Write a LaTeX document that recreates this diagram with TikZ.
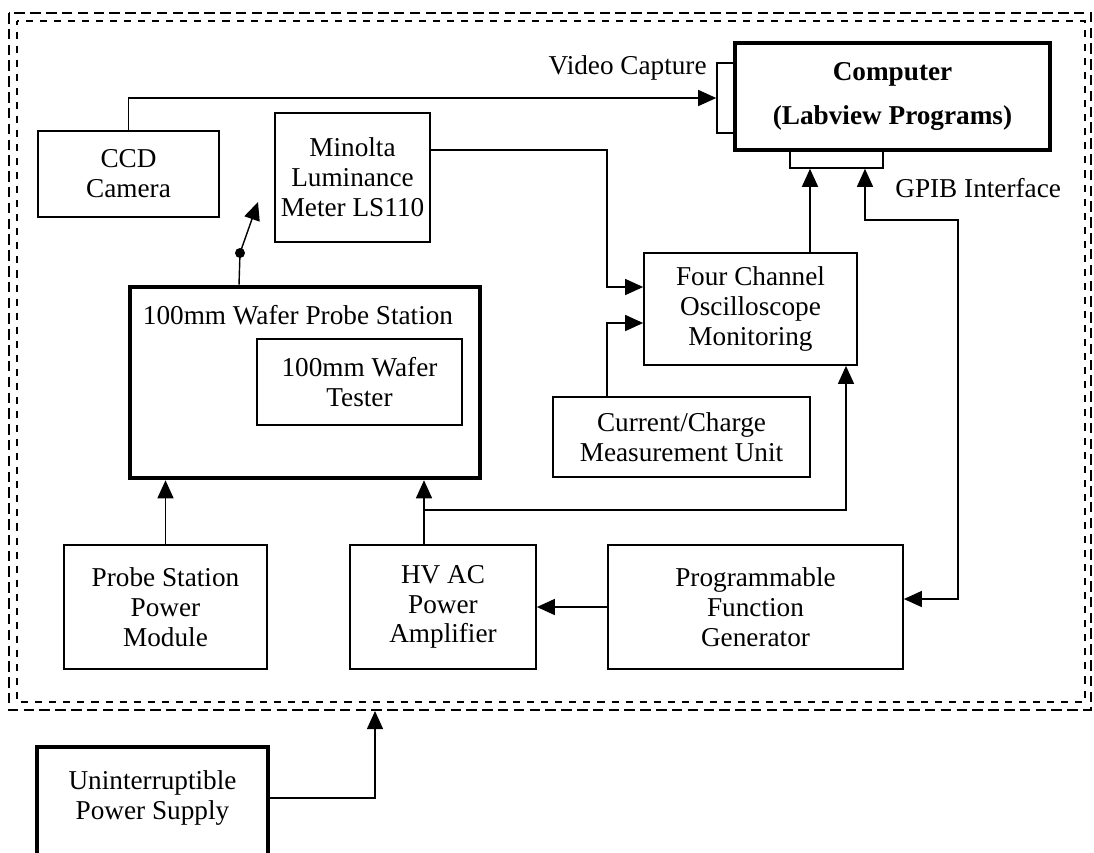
\documentclass[tikz,border=0pt]{standalone}
\usepackage{fontspec}
\setmainfont{Liberation Serif}
\usetikzlibrary{positioning}
\usetikzlibrary{arrows.meta}

\tikzset{
  box/.style={draw, rectangle, line width=1pt, align=center, inner sep=0pt},
  heavy/.style={box, line width=2.6pt},
  port/.style={draw, rectangle, line width=0.9pt, inner sep=0pt},
  tip/.tip={Triangle[length=0.36cm,width=0.32cm]},
  conn/.style={line width=0.8pt, -tip},
  frame/.style={line width=1.5pt}
}

\begin{document}
\begin{tikzpicture}[x=0.02cm, y=-0.02cm, every node/.style={font=\fontsize{15.5}{17}\selectfont}]
    \useasboundingbox (0,0) rectangle (1094,852);

    % Double dashed enclosure
    \draw[frame, dash pattern=on 6pt off 3pt] (9,13) rectangle (1091,710);
    \draw[frame, dash pattern=on 4pt off 4pt, dash phase=2pt] (17,21) rectangle (1085,702);

    % Computer and its ports
    \node (comp) [heavy, minimum width=6.3cm, minimum height=2.14cm, font=\fontsize{15.5}{17}\selectfont\bfseries] at (892.5,96.5) {Computer\\[8pt](Labview Programs)};
    \node (vidport) [port, minimum width=0.36cm, minimum height=1.4cm] at (726,98) {};
    \node (gpibport) [port, minimum width=1.86cm, minimum height=0.36cm] at (836.5,159) {};
    \node (vidlbl) [anchor=east, inner sep=0pt] at (707,68) {Video Capture};
    \node (gpiblbl) [anchor=west, inner sep=0pt] at (895,188) {GPIB Interface};

    % Instruments
    \node (ccd) [box, minimum width=3.62cm, minimum height=1.72cm] at (128.5,174) {CCD\\Camera};
    \node (minolta) [box, minimum width=3.1cm, minimum height=2.58cm] at (352.5,177.5) {Minolta\\Luminance\\Meter LS110};
    \node (probe) [heavy, minimum width=7cm, minimum height=3.82cm] at (305,382.5) {};
    \node (probelbl) [inner sep=0pt] at (298,315) {100mm Wafer Probe Station};
    \node (tester) [box, minimum width=4.1cm, minimum height=1.72cm] at (359.5,382) {100mm Wafer\\Tester};
    \node (osc) [box, minimum width=4.26cm, minimum height=2.24cm] at (750.5,309) {Four Channel\\Oscilloscope\\Monitoring};
    \node (current) [box, minimum width=5.14cm, minimum height=1.6cm] at (681.5,437) {Current/Charge\\Measurement Unit};

    % Power and signal sources
    \node (psp) [box, minimum width=4.06cm, minimum height=2.48cm] at (165.5,607) {Probe Station\\Power\\Module};
    \node (hvac) [box, minimum width=3.72cm, minimum height=2.48cm] at (443,607) {HV AC\\Power\\Amplifier};
    \node (fgen) [box, minimum width=5.9cm, minimum height=2.48cm] at (755.5,607) {Programmable\\Function\\Generator};
    \node (upsbox) [heavy, minimum width=4.62cm, minimum height=2.44cm] at (152.5,808) {};
    \node (ups) [align=center] at (152.5,798) {Uninterruptible\\Power Supply};

    % Connections
    \draw[conn] (ccd.north) |- (vidport.west);
    \draw[conn] ([yshift=0.55cm]minolta.east) -| ([xshift=-0.72cm,yshift=0.44cm]osc.west) -- ([yshift=0.44cm]osc.west);
    \draw[conn] ([xshift=1.1cm]current.north west) |- ([yshift=-0.28cm]osc.west);
    \draw[conn] ([xshift=1.19cm]osc.north) -- ([xshift=1.19cm]osc.north |- gpibport.south);
    \draw[conn, tip-tip] ([xshift=0.57cm]gpibport.south) |- (958,220) |- ([yshift=0.16cm]fgen.east);
    \draw[conn] ([xshift=-0.38cm]hvac.north) -- ([xshift=-0.38cm]hvac.north |- probe.south);
    \draw[conn] ([xshift=-0.38cm]hvac.north |- 0,510) -| ([xshift=1.91cm]osc.south);
    \draw[conn] (psp.north) -- (psp.north |- probe.south);
    \draw[conn] (fgen.west) -- (hvac.east);

    % Pivoting link from the probe station
    \coordinate (pivot) at (240,253);
    \coordinate (swing) at (258,202);
    \draw[line width=0.8pt] ([xshift=-1.32cm]probe.north) -- (pivot);
    \fill (pivot) circle (0.1cm);
    \draw[conn] (pivot) -- (swing);

    % Supply into the enclosure
    \coordinate (enclosure) at (375,711);
    \draw[conn] (upsbox.east |- ups) -| (enclosure);
\end{tikzpicture}
\end{document}
